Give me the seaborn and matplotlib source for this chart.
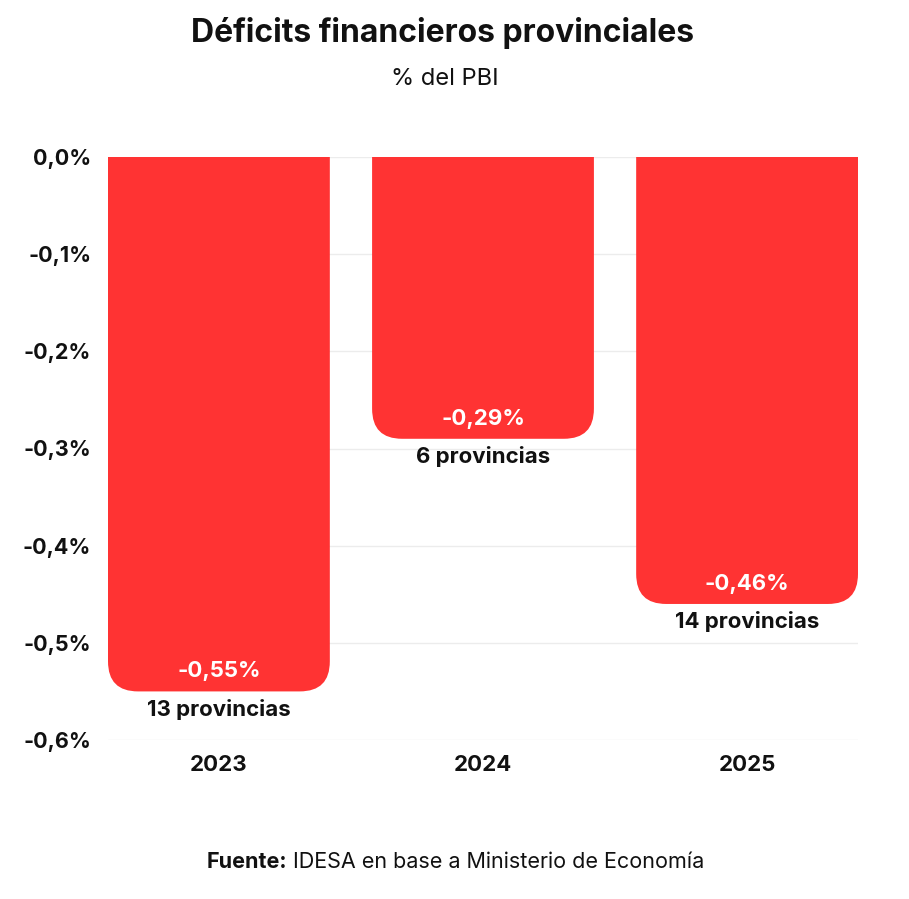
import matplotlib
matplotlib.use("Agg")
import matplotlib.pyplot as plt
from matplotlib.path import Path
from matplotlib.patches import PathPatch
import seaborn as sns
import pandas as pd

# data
years = ["2023", "2024", "2025"]
deficit = [-0.55, -0.29, -0.46]
provincias = [13, 6, 14]
yticks = [0.0, -0.1, -0.2, -0.3, -0.4, -0.5, -0.6]

RED = "#FF3333"
INK = "#111111"

sns.set_theme(style="white")
plt.rcParams["font.family"] = ["Inter", "DejaVu Sans"]

df = pd.DataFrame({"anio": years, "deficit": deficit, "prov": provincias})

fig = plt.figure(figsize=(9.09, 8.99), dpi=100)
ax = fig.add_axes([108 / 909, 1 - 740 / 899, 750 / 909, 583 / 899])

sns.barplot(data=df, x="anio", y="deficit", color=RED, saturation=1,
            width=0.84, ax=ax, zorder=2)

ax.set_xlim(-0.42, 2.42)
ax.set_ylim(-0.6, 0)

# swap the square bars for bars with rounded bottom corners
px_x = 750 / 2.84          # pixels per x unit
px_y = 583 / 0.6           # pixels per y unit
rad = 30
rx, ry = rad / px_x, rad / px_y
for p in list(ax.patches):
    x0 = p.get_x()
    x1 = x0 + p.get_width()
    top = 0.0
    bot = min(p.get_y(), p.get_y() + p.get_height())
    verts = [(x0, top), (x0, bot + ry), (x0, bot), (x0 + rx, bot),
             (x1 - rx, bot), (x1, bot), (x1, bot + ry), (x1, top), (x0, top)]
    codes = [Path.MOVETO, Path.LINETO, Path.CURVE3, Path.CURVE3,
             Path.LINETO, Path.CURVE3, Path.CURVE3, Path.LINETO, Path.CLOSEPOLY]
    ax.add_patch(PathPatch(Path(verts, codes), facecolor=RED, edgecolor="none",
                           zorder=2))
    p.remove()

# labels on bars
for i, (v, n) in enumerate(zip(deficit, provincias)):
    ax.text(i, v + 20 / px_y, f"{v:.2f}%".replace(".", ","), color="white",
            fontsize=16, fontweight="bold", ha="center", va="center", zorder=3)
    ax.text(i, v - 18 / px_y, f"{n} provincias", color=INK,
            fontsize=16, fontweight="bold", ha="center", va="center", zorder=3)

ax.set_yticks(yticks)
ax.set_yticklabels([f"{t:.1f}%".replace(".", ",") for t in yticks])
ax.grid(axis="y", color="#ececec", linewidth=1, zorder=0)
ax.set_axisbelow(True)
for s in ax.spines.values():
    s.set_visible(False)
ax.tick_params(axis="y", length=0, pad=12, labelsize=15.5, labelcolor=INK)
ax.tick_params(axis="x", length=0, pad=11, labelsize=16, labelcolor=INK)
for lab in ax.get_xticklabels() + ax.get_yticklabels():
    lab.set_fontweight("bold")
ax.set_xlabel("")
ax.set_ylabel("")

fig.text(0.487, 1 - 33 / 899, "Déficits financieros provinciales",
         fontsize=23, fontweight="bold", ha="center", va="center", color=INK)
fig.text(0.489, 1 - 79 / 899, "% del PBI", fontsize=17, ha="center",
         va="center", color=INK)

# source line: bold lead-in followed by regular text, centred as a whole
renderer = fig.canvas.get_renderer()
src_y = 1 - 862 / 899
t1 = fig.text(0, src_y, "Fuente:", fontsize=15.5, fontweight="bold",
              ha="left", va="center", color=INK)
t2 = fig.text(0, src_y, " IDESA en base a Ministerio de Economía", fontsize=15.5,
              ha="left", va="center", color=INK)
w1 = t1.get_window_extent(renderer).width
w2 = t2.get_window_extent(renderer).width
start = 455 - (w1 + w2) / 2
t1.set_x(start / 909)
t2.set_x((start + w1) / 909)

fig.savefig("out.png", dpi=100, facecolor="white")
